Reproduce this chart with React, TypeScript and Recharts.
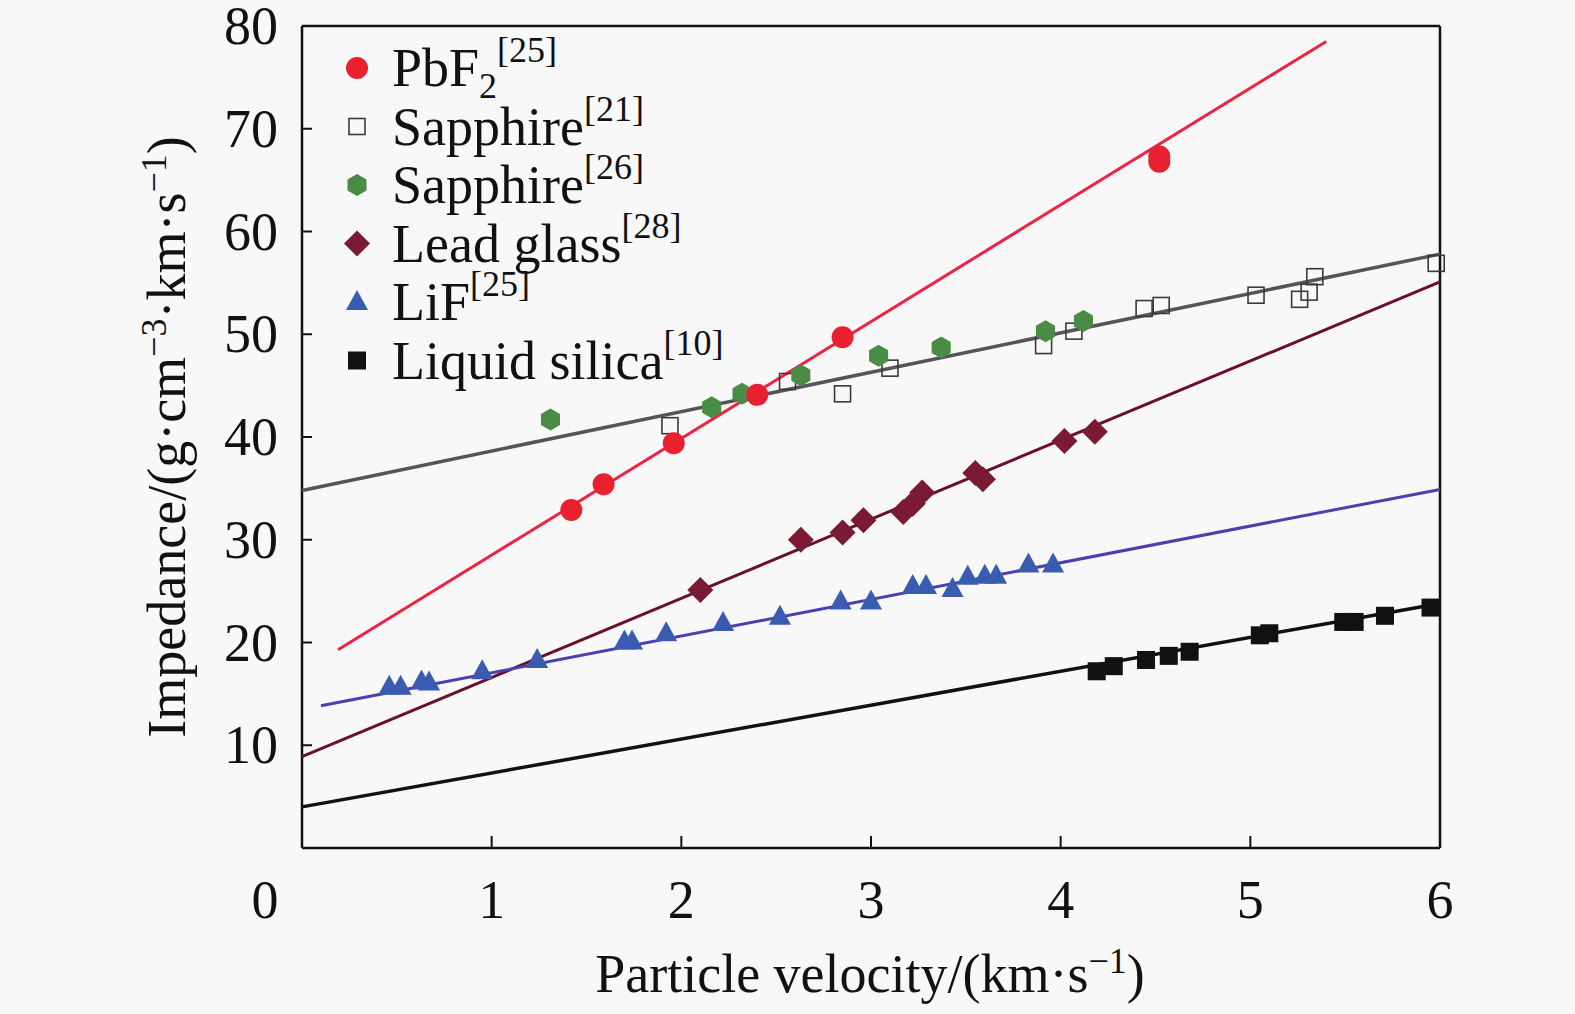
import React from "react";
import { ReferenceLine, Scatter, ScatterChart, XAxis, YAxis } from "recharts";

// ---- data ----
const PBF2_X = [1.42, 1.59, 1.96, 2.4, 2.85, 4.52, 4.52];
const PBF2_Y = [32.9, 35.4, 39.4, 44.1, 49.7, 66.8, 67.3];

const SAPPH21_X = [1.94, 2.56, 2.85, 3.1, 3.91, 4.07, 4.44, 4.53, 5.03, 5.26, 5.31, 5.34, 5.98];
const SAPPH21_Y = [41.1, 45.4, 44.2, 46.7, 48.9, 50.3, 52.5, 52.8, 53.8, 53.4, 54.1, 55.6, 56.9];

const SAPPH26_X = [1.31, 2.16, 2.32, 2.63, 3.04, 3.37, 3.92, 4.12];
const SAPPH26_Y = [41.7, 42.9, 44.2, 46.0, 47.9, 48.7, 50.3, 51.3];

const LEAD_X = [2.1, 2.63, 2.85, 2.96, 3.17, 3.22, 3.27, 3.55, 3.59, 4.02, 4.18];
const LEAD_Y = [25.1, 30.0, 30.7, 31.9, 32.7, 33.5, 34.6, 36.5, 35.9, 39.6, 40.5];

const LIF_X = [0.46, 0.52, 0.63, 0.67, 0.95, 1.24, 1.7, 1.74, 1.92, 2.22, 2.52, 2.84, 3.0, 3.22, 3.29, 3.43, 3.51, 3.6, 3.66, 3.83, 3.96];
const LIF_Y = [15.7, 15.7, 16.2, 16.1, 17.2, 18.3, 20.1, 20.1, 20.9, 21.9, 22.5, 24.0, 24.0, 25.5, 25.5, 25.2, 26.4, 26.5, 26.5, 27.6, 27.6];

const SILICA_X = [4.19, 4.28, 4.45, 4.57, 4.68, 5.05, 5.1, 5.49, 5.55, 5.71, 5.95];
const SILICA_Y = [17.2, 17.7, 18.3, 18.7, 19.1, 20.7, 20.9, 22.0, 22.0, 22.6, 23.4];

// fit lines: [start, end]
const PBF2_FIT_X = [0.19, 5.4];
const PBF2_FIT_Y = [19.3, 78.5];
const SAPPH_FIT_X = [0, 6];
const SAPPH_FIT_Y = [34.8, 57.8];
const LEAD_FIT_X = [0, 6];
const LEAD_FIT_Y = [8.9, 55.1];
const LIF_FIT_X = [0.1, 6];
const LIF_FIT_Y = [13.85, 34.9];
const SILICA_FIT_X = [0, 6];
const SILICA_FIT_Y = [4.0, 23.8];

const X_TICKS = [0, 1, 2, 3, 4, 5, 6];
const Y_TICKS = [10, 20, 30, 40, 50, 60, 70, 80];

const FONT = "'Liberation Serif', 'Times New Roman', serif";
const FS = 54;
const FS_SUP = 36;

const RED = "#e8202f";
const GREEN = "#4a8c45";
const MAROON = "#7a1a35";
const BLUE = "#3a5cb0";

const zip = (xs: number[], ys: number[]) => xs.map((x, i) => ({ x, y: ys[i] }));

// ---- marker shapes ----
type P = { cx?: number; cy?: number };

const Dot = ({ cx = 0, cy = 0 }: P) => <circle cx={cx} cy={cy} r={11} fill={RED} />;
const OpenSq = ({ cx = 0, cy = 0 }: P) => (
  <rect x={cx - 8} y={cy - 8} width={16} height={16} fill="none" stroke="#3a3a3a" strokeWidth={1.6} />
);
const Hex = ({ cx = 0, cy = 0 }: P) => {
  const r = 11;
  const pts = [0, 1, 2, 3, 4, 5]
    .map((k) => {
      const a = (Math.PI / 3) * k - Math.PI / 2;
      return `${cx + r * Math.cos(a)},${cy + r * Math.sin(a)}`;
    })
    .join(" ");
  return <polygon points={pts} fill={GREEN} />;
};
const Diamond = ({ cx = 0, cy = 0 }: P) => (
  <polygon points={`${cx},${cy - 13} ${cx + 13},${cy} ${cx},${cy + 13} ${cx - 13},${cy}`} fill={MAROON} />
);
const Tri = ({ cx = 0, cy = 0 }: P) => (
  <polygon points={`${cx},${cy - 12} ${cx + 11},${cy + 8} ${cx - 11},${cy + 8}`} fill={BLUE} />
);
const BlackSq = ({ cx = 0, cy = 0 }: P) => <rect x={cx - 9} y={cy - 9} width={18} height={18} fill="#111" />;
const NoMark = () => <g />;

// ---- ticks (inward tick marks + labels) ----
const XTick = ({ x = 0, y = 0, payload }: any) => {
  const v = payload.value;
  return (
    <g>
      {v !== 0 && v !== 6 && <line x1={x} y1={y} x2={x} y2={y - 12} stroke="#111" strokeWidth={2} />}
      <text x={v === 0 ? x - 37 : x} y={y + 70} textAnchor="middle" fontFamily={FONT} fontSize={FS} fill="#111">
        {v}
      </text>
    </g>
  );
};

const YTick = ({ x = 0, y = 0, payload }: any) => (
  <g>
    {payload.value !== 80 && <line x1={x} y1={y} x2={x + 10} y2={y} stroke="#111" strokeWidth={2} />}
    <text x={x - 24} y={y + 18} textAnchor="end" fontFamily={FONT} fontSize={FS} fill="#111">
      {payload.value}
    </text>
  </g>
);

// ---- legend ----
const LEGEND = [
  { shape: Dot, name: "PbF", sub: "2", ref: "[25]" },
  { shape: OpenSq, name: "Sapphire", ref: "[21]" },
  { shape: Hex, name: "Sapphire", ref: "[26]" },
  { shape: Diamond, name: "Lead glass", ref: "[28]" },
  { shape: Tri, name: "LiF", ref: "[25]" },
  { shape: BlackSq, name: "Liquid silica", ref: "[10]" },
];

function LegendBox() {
  return (
    <svg width={520} height={420} style={{ position: "absolute", left: 330, top: 0 }}>
      {LEGEND.map((e, i) => {
        const cy = 68 + i * 58.5;
        const S = e.shape;
        return (
          <g key={i}>
            <S cx={27} cy={cy} />
            <text x={62} y={cy + 18} fontFamily={FONT} fontSize={FS} fill="#111">
              {e.name}
              {e.sub && (
                <tspan fontSize={FS_SUP} dy={12}>
                  {e.sub}
                </tspan>
              )}
              <tspan fontSize={FS_SUP} dy={e.sub ? -36 : -24}>
                {e.ref}
              </tspan>
            </text>
          </g>
        );
      })}
    </svg>
  );
}

export default function App() {
  return (
    <div style={{ position: "absolute", left: 0, top: 0, width: 1575, height: 1014, background: "#f8f8f8" }}>
      <ScatterChart width={1575} height={1014} margin={{ top: 26, right: 135, bottom: 0, left: 0 }}>
        <XAxis
          type="number"
          dataKey="x"
          domain={[0, 6]}
          ticks={X_TICKS}
          interval={0}
          height={166}
          tickSize={0}
          tickMargin={0}
          tickLine={false}
          tick={<XTick />}
          axisLine={{ stroke: "#111", strokeWidth: 2.5 }}
        />
        <YAxis
          type="number"
          dataKey="y"
          domain={[0, 80]}
          ticks={Y_TICKS}
          interval={0}
          width={302}
          tickSize={0}
          tickMargin={0}
          tickLine={false}
          tick={<YTick />}
          axisLine={{ stroke: "#111", strokeWidth: 2.5 }}
        />
        <ReferenceLine y={80} stroke="#111" strokeWidth={2.5} />
        <ReferenceLine x={6} stroke="#111" strokeWidth={2.5} />

        <Scatter data={zip(PBF2_FIT_X, PBF2_FIT_Y)} line={{ stroke: "#ee2244", strokeWidth: 3 }} shape={<NoMark />} isAnimationActive={false} />
        <Scatter data={zip(SAPPH_FIT_X, SAPPH_FIT_Y)} line={{ stroke: "#555", strokeWidth: 3.5 }} shape={<NoMark />} isAnimationActive={false} />
        <Scatter data={zip(LEAD_FIT_X, LEAD_FIT_Y)} line={{ stroke: "#6a1028", strokeWidth: 3 }} shape={<NoMark />} isAnimationActive={false} />
        <Scatter data={zip(LIF_FIT_X, LIF_FIT_Y)} line={{ stroke: "#4a40b0", strokeWidth: 3 }} shape={<NoMark />} isAnimationActive={false} />
        <Scatter data={zip(SILICA_FIT_X, SILICA_FIT_Y)} line={{ stroke: "#111", strokeWidth: 3.5 }} shape={<NoMark />} isAnimationActive={false} />

        <Scatter data={zip(SAPPH21_X, SAPPH21_Y)} shape={<OpenSq />} isAnimationActive={false} />
        <Scatter data={zip(SAPPH26_X, SAPPH26_Y)} shape={<Hex />} isAnimationActive={false} />
        <Scatter data={zip(PBF2_X, PBF2_Y)} shape={<Dot />} isAnimationActive={false} />
        <Scatter data={zip(LEAD_X, LEAD_Y)} shape={<Diamond />} isAnimationActive={false} />
        <Scatter data={zip(LIF_X, LIF_Y)} shape={<Tri />} isAnimationActive={false} />
        <Scatter data={zip(SILICA_X, SILICA_Y)} shape={<BlackSq />} isAnimationActive={false} />
      </ScatterChart>

      <LegendBox />

      <div
        style={{
          position: "absolute",
          left: 165,
          top: 437,
          transform: "translate(-50%, -50%) rotate(-90deg)",
          fontFamily: FONT,
          fontSize: FS,
          whiteSpace: "nowrap",
          color: "#111",
        }}
      >
        Impedance/(g·cm<sup style={{ fontSize: FS_SUP }}>−3</sup>·km·s<sup style={{ fontSize: FS_SUP }}>−1</sup>)
      </div>
      <div
        style={{
          position: "absolute",
          left: 870,
          top: 972,
          transform: "translate(-50%, -50%)",
          fontFamily: FONT,
          fontSize: FS,
          whiteSpace: "nowrap",
          color: "#111",
        }}
      >
        Particle velocity/(km·s<sup style={{ fontSize: FS_SUP }}>−1</sup>)
      </div>
    </div>
  );
}
